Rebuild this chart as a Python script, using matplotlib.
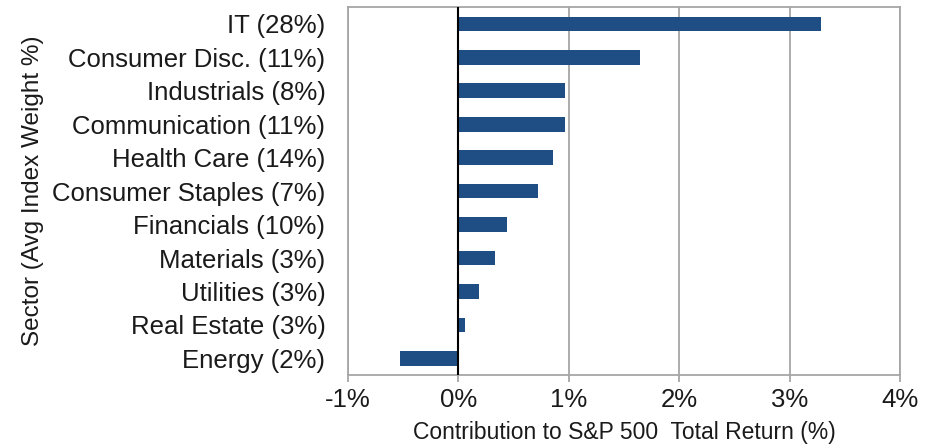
import numpy as np
import matplotlib
matplotlib.use("Agg")
import matplotlib.pyplot as plt
from matplotlib.ticker import FuncFormatter

# sector labels (avg index weight) and contribution to total return, %
sectors = ["IT (28%)", "Consumer Disc. (11%)", "Industrials (8%)",
           "Communication (11%)", "Health Care (14%)", "Consumer Staples (7%)",
           "Financials (10%)", "Materials (3%)", "Utilities (3%)",
           "Real Estate (3%)", "Energy (2%)"]
contrib = [3.28, 1.64, 0.97, 0.97, 0.86, 0.72, 0.44, 0.33, 0.19, 0.06, -0.53]
xticks = [-1, 0, 1, 2, 3, 4]

plt.rcParams['font.family'] = ['Liberation Sans', 'DejaVu Sans']

fig = plt.figure(figsize=(9.37, 4.46), dpi=100)
ax = fig.add_axes([0.371, 0.159, 0.59, 0.825])

y = np.arange(len(sectors))
ax.barh(y, contrib, height=0.44, color='#1F4E85', zorder=3)
ax.set_ylim(len(sectors) - 0.5, -0.5)
ax.set_xlim(-1, 4)

ax.set_xticks(xticks)
ax.xaxis.set_major_formatter(FuncFormatter(lambda v, p: f"{v:.0f}%"))
ax.set_yticks(y)
ax.set_yticklabels(sectors)

ax.grid(axis='x', color='#A6A6A6', linewidth=1.3, zorder=0)
ax.axvline(0, color='black', linewidth=1.5, zorder=4)
for s in ax.spines.values():
    s.set_color('#A6A6A6')
    s.set_linewidth(1.3)

ax.tick_params(axis='x', labelsize=18.5, colors='#A6A6A6', labelcolor='#1a1a1a',
               length=5, width=1.3, pad=4)
ax.tick_params(axis='y', labelsize=18.5, length=0, pad=16, labelcolor='#1a1a1a')

ax.set_xlabel("Contribution to S&P 500  Total Return (%)", fontsize=16.5,
              color='#1a1a1a')
ax.set_ylabel("Sector (Avg Index Weight %)", fontsize=17.5, color='#1a1a1a')
ax.xaxis.set_label_coords(0.5, -0.125)
ax.yaxis.set_label_coords(-0.55, 0.5)

fig.savefig("out.png", dpi=100)
